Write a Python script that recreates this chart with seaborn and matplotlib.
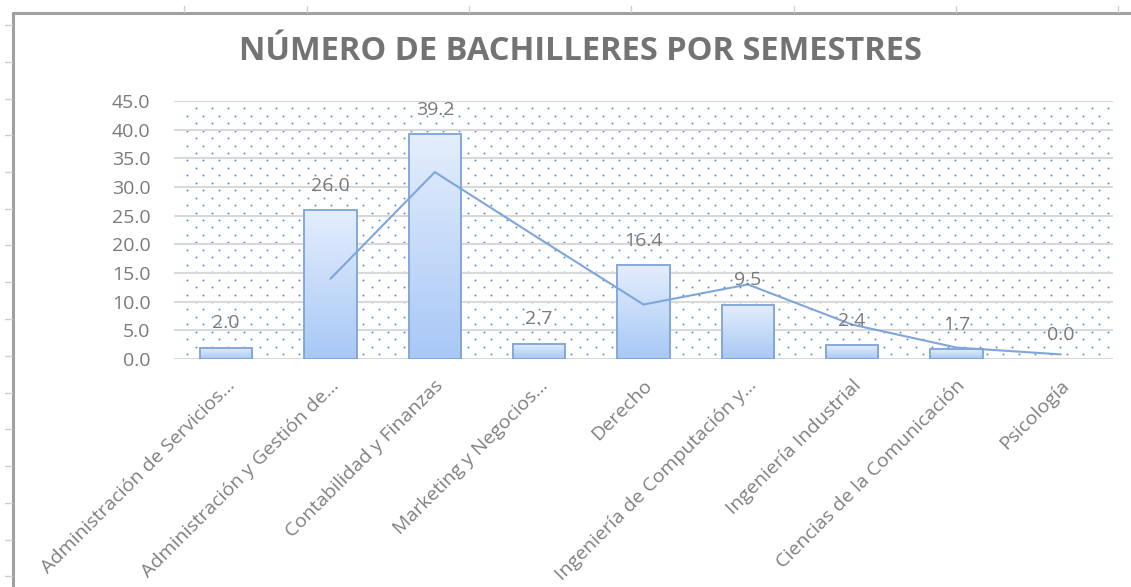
import matplotlib
matplotlib.use("Agg")
import matplotlib.pyplot as plt
import matplotlib.transforms as mtransforms
from matplotlib.colors import LinearSegmentedColormap
from matplotlib.lines import Line2D
import numpy as np
import seaborn as sns

# data
carreras = [
    "Administración de Servicios…",
    "Administración y Gestión de…",
    "Contabilidad y Finanzas",
    "Marketing y Negocios…",
    "Derecho",
    "Ingeniería de Computación y…",
    "Ingeniería Industrial",
    "Ciencias de la Comunicación",
    "Psicología",
]
bachilleres = [2.0, 26.0, 39.2, 2.7, 16.4, 9.5, 2.4, 1.7, 0.0]
# trend line (moving average), starts at 2nd category
tendencia_idx = [1, 2, 3, 4, 5, 6, 7, 8]
tendencia = [14.0, 32.6, 21.0, 9.5, 13.0, 6.0, 2.0, 0.8]

W, H = 1131, 587
TXT = "#7a7a7a"
BLUE_EDGE = "#7ea3d6"

sns.set_style("white")
plt.rcParams["font.family"] = ["Open Sans", "DejaVu Sans"]

fig = plt.figure(figsize=(W / 100, H / 100), dpi=100)
ax = fig.add_axes([174 / W, 1 - 359 / H, 939 / W, 258 / H])

# dotted background fill (pattern), in pixel steps
ax_w, ax_h = 939.0, 258.0
dx, dy = 16.0, 7.45
px, py = [], []
row = 0
yy = ax_h - 7.3
while yy > 1:
    x0 = 21.7 if row % 2 == 0 else 13.3
    xs = np.arange(x0, ax_w - 1, dx)
    px.extend(xs / ax_w)
    py.extend([yy / ax_h] * len(xs))
    yy -= dy
    row += 1
ax.scatter(px, py, s=2.0, color="#5b8ed8", linewidths=0,
           transform=ax.transAxes, zorder=0.3)

sns.barplot(x=carreras, y=bachilleres, ax=ax, width=0.5, color="white",
            edgecolor=BLUE_EDGE, linewidth=1.3, zorder=3)

grad = np.linspace(0, 1, 100).reshape(-1, 1)
cmap = LinearSegmentedColormap.from_list("barfill", ["#a8c8f6", "#e4eefc"])
for p in ax.patches:
    p.set_facecolor("none")
    p.set_zorder(3)
    h = p.get_height()
    if h <= 0:
        p.set_edgecolor("none")
        continue
    x0 = p.get_x()
    x1 = x0 + p.get_width()
    ax.imshow(grad, extent=[x0, x1, 0, h], origin="lower", cmap=cmap,
              aspect="auto", zorder=2, interpolation="bilinear")

sns.lineplot(x=tendencia_idx, y=tendencia, ax=ax, color="#7ea6dc",
             linewidth=1.5, zorder=4)

for i, v in enumerate(bachilleres):
    ax.annotate(f"{v:.1f}", (i, v), xytext=(0, 17.5), textcoords="offset points",
                ha="center", va="center", fontsize=14, color=TXT, zorder=5)

ax.set_xlim(-0.5, 8.5)
ax.set_ylim(0, 45)
ax.set_yticks(np.arange(0, 46, 5))
ax.set_yticklabels([f"{t:.1f}" for t in np.arange(0, 46, 5)])
ax.set_axisbelow(True)
ax.yaxis.grid(True, color="#d9d9d9", linewidth=1.5)
ax.xaxis.grid(False)
for s in ax.spines.values():
    s.set_visible(False)
ax.tick_params(axis="y", length=0, pad=17, labelsize=14, labelcolor=TXT)
ax.tick_params(axis="x", length=0, pad=17, labelsize=14, labelcolor="#808080")
ax.set_xlabel("")
ax.set_ylabel("")

offset = mtransforms.ScaledTranslation(6 / 100, 0, fig.dpi_scale_trans)
for lab in ax.get_xticklabels():
    lab.set_rotation(45)
    lab.set_ha("right")
    lab.set_va("center")
    lab.set_rotation_mode("anchor")
    lab.set_transform(lab.get_transform() + offset)

fig.text(580 / W, 1 - 52 / H, "NÚMERO DE BACHILLERES POR SEMESTRES",
         ha="center", va="center", fontsize=23.5, fontweight="bold", color="#737373")

# screenshot frame of the spreadsheet
def fline(xs, ys, **kw):
    fig.add_artist(Line2D([x / W for x in xs], [1 - y / H for y in ys],
                          transform=fig.transFigure, **kw))

fline([13, W], [13, 13], color="#a0a0a0", linewidth=2.2)
fline([13, 13], [13, H], color="#a0a0a0", linewidth=2.2)
for x in [184, 307, 469, 631, 794, 956, 1118]:
    fline([x, x], [6, 12], color="#cfcfcf", linewidth=1)
for k in range(16):
    y = 25 + 36.75 * k
    fline([5, 12], [y, y], color="#cfcfcf", linewidth=1)

fig.savefig("out.png", dpi=100)
